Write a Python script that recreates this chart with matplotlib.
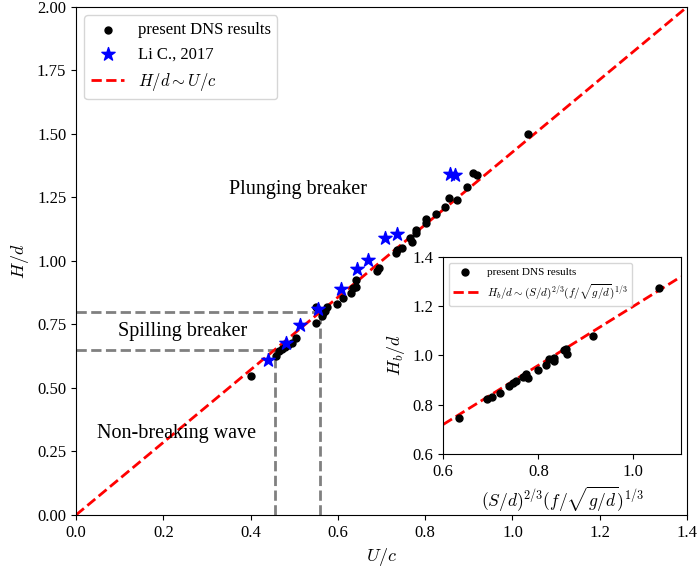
import numpy as np
import matplotlib
matplotlib.use("Agg")
import matplotlib.pyplot as plt

plt.rcParams['font.family'] = ['Liberation Serif', 'DejaVu Serif']
plt.rcParams['mathtext.fontset'] = 'cm'

# Present DNS results: U/c vs H/d
dns_u = [0.400, 0.458, 0.466, 0.471, 0.479, 0.486, 0.494, 0.505, 0.550, 0.550,
         0.563, 0.566, 0.570, 0.574, 0.597, 0.611, 0.629, 0.635, 0.641, 0.641,
         0.689, 0.695, 0.734, 0.735, 0.748, 0.765, 0.769, 0.779, 0.779, 0.803,
         0.803, 0.825, 0.845, 0.855, 0.872, 0.896, 0.910, 0.918, 1.035]
dns_h = [0.548, 0.627, 0.645, 0.652, 0.663, 0.668, 0.676, 0.696, 0.757, 0.820,
         0.783, 0.794, 0.805, 0.820, 0.831, 0.853, 0.873, 0.892, 0.899, 0.925,
         0.961, 0.971, 1.030, 1.043, 1.050, 1.089, 1.076, 1.109, 1.122, 1.148,
         1.164, 1.184, 1.211, 1.249, 1.240, 1.290, 1.348, 1.339, 1.500]

# Li C., 2017
li_u = [0.439, 0.481, 0.513, 0.555, 0.608, 0.643, 0.670, 0.709, 0.735, 0.858, 0.868]
li_h = [0.610, 0.678, 0.749, 0.810, 0.889, 0.969, 1.004, 1.089, 1.105, 1.343, 1.339]

# Scaling law H/d ~ U/c
fit_slope = 2.0 / 1.4

# Breaking thresholds (H/d)
spill_h = 0.65
plunge_h = 0.80

# Inset: scaled parameter vs H_b/d
ins_x = [0.633, 0.693, 0.702, 0.719, 0.738, 0.747, 0.752, 0.768, 0.775, 0.779,
         0.800, 0.816, 0.823, 0.833, 0.834, 0.853, 0.859, 0.861, 0.914, 1.053]
ins_y = [0.748, 0.825, 0.830, 0.847, 0.878, 0.890, 0.896, 0.914, 0.924, 0.908,
         0.941, 0.960, 0.985, 0.978, 0.988, 1.023, 1.026, 1.005, 1.081, 1.274]
ins_slope = 1.2

fig = plt.figure(figsize=(6.98, 5.72), dpi=100)
ax = fig.add_axes([0.1089, 0.0997, 0.8754, 0.8881])

ax.scatter(dns_u, dns_h, s=25, color='black', zorder=3, label='present DNS results')
ax.scatter(li_u, li_h, s=100, marker='*', color='blue', zorder=4, label='Li C., 2017')
xl = np.array([0.0, 1.4])
ax.plot(xl, fit_slope * xl, '--', color='red', lw=2, zorder=2, label=r'$H/d\sim U/c$')

u_sp = spill_h / fit_slope
u_pl = plunge_h / fit_slope
gkw = dict(color='gray', ls='--', lw=2, zorder=1)
ax.plot([0, u_sp], [spill_h, spill_h], **gkw)
ax.plot([u_sp, u_sp], [0, spill_h], **gkw)
ax.plot([0, u_pl], [plunge_h, plunge_h], **gkw)
ax.plot([u_pl, u_pl], [0, plunge_h], **gkw)

ax.text(0.508, 1.28, 'Plunging breaker', fontsize=14.5, ha='center', va='center')
ax.text(0.245, 0.724, 'Spilling breaker', fontsize=14.5, ha='center', va='center')
ax.text(0.231, 0.319, 'Non-breaking wave', fontsize=14.5, ha='center', va='center')

ax.set_xlim(0, 1.4)
ax.set_ylim(0, 2.0)
ax.set_xticks(np.arange(0, 1.41, 0.2))
ax.set_yticks(np.arange(0, 2.01, 0.25))
ax.set_xticklabels([f'{v:.1f}' for v in np.arange(0, 1.41, 0.2)])
ax.set_yticklabels([f'{v:.2f}' for v in np.arange(0, 2.01, 0.25)])
ax.tick_params(labelsize=12)
ax.set_xlabel(r'$U/c$', fontsize=13)
ax.set_ylabel(r'$H/d$', fontsize=13)
ax.legend(loc='upper left', fontsize=12, handlelength=2.0)

# Inset
axi = fig.add_axes([0.635, 0.2063, 0.3406, 0.3444])
axi.scatter(ins_x, ins_y, s=25, color='black', zorder=3, label='present DNS results')
xi = np.array([0.6, 1.1])
axi.plot(xi, ins_slope * xi, '--', color='red', lw=2, zorder=2,
         label=r'$H_b/d\sim(S/d)^{2/3}(f/\sqrt{g/d})^{1/3}$')
axi.set_xlim(0.6, 1.1)
axi.set_ylim(0.6, 1.4)
axi.set_xticks([0.6, 0.8, 1.0])
axi.set_yticks([0.6, 0.8, 1.0, 1.2, 1.4])
axi.tick_params(labelsize=12)
axi.set_xlabel(r'$(S/d)^{2/3}(f/\sqrt{g/d})^{1/3}$', fontsize=12.5)
axi.set_ylabel(r'$H_b/d$', fontsize=13)
axi.legend(loc='upper left', fontsize=8, handlelength=2.2)

fig.savefig('out.png', dpi=100)
